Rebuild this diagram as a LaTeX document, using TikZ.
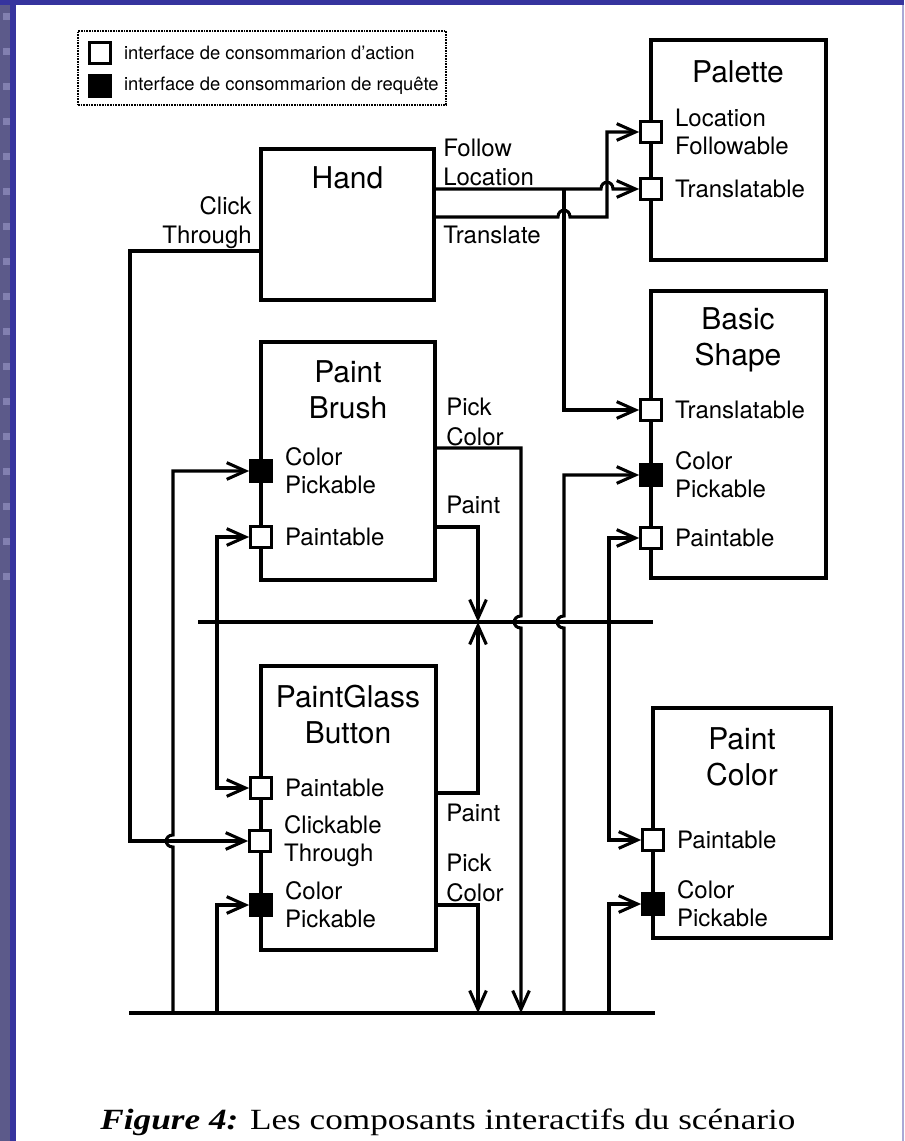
\documentclass[tikz,border=0pt]{standalone}
\usepackage{fontspec}
\setmainfont{TeX Gyre Heros}
\newfontfamily\capfont{Liberation Serif}
\usetikzlibrary{arrows.meta,positioning}
\definecolor{slideblue}{RGB}{54,52,158}
\definecolor{slidegrey}{RGB}{92,90,138}
\definecolor{slidemark}{RGB}{130,128,176}
\definecolor{slideedge}{RGB}{170,168,214}

\begin{document}
\begin{tikzpicture}[
  x=0.75pt, y=-0.75pt,
  every node/.style={font=\fontsize{18}{22}\selectfont},
  blockbox/.style={draw, line width=2.3pt, inner sep=0pt},
  blocktitle/.style={align=center, font=\fontsize{22.5}{27}\selectfont},
  actport/.style={draw, fill=white, line width=1.8pt, minimum size=16pt, inner sep=0pt},
  reqport/.style={actport, fill=black},
  portlabel/.style={align=left, inner sep=0pt, right=9pt of #1,
                    font=\fontsize{18}{21}\selectfont},
  wirelabel/.style={align=left, inner sep=0pt, anchor=west},
  keytext/.style={inner sep=0pt, font=\fontsize{13.8}{16}\selectfont},
  wire/.style={line width=2.3pt},
  feed/.style={wire, -{Straight Barb[length=14pt,width=12.5pt]}},
  bus/.style={line width=2.8pt},
]
\useasboundingbox (0,0) rectangle (904,1141);

% slide frame
\fill[white] (0,0) rectangle (904,1141);
\fill[slideedge] (902,0) rectangle (904,1141);
\fill[slidegrey] (0,0) rectangle (10,1141);
\fill[slideblue] (10,0) rectangle (16,1141);
\fill[slideblue] (0,0) rectangle (904,5);
\foreach \y in {13,48,...,573}
  \fill[slidemark] (3,\y) rectangle (10,\y+7);

% legend
\node[draw, line width=1.1pt, dash pattern=on 1.2pt off 0.8pt,
      minimum width=276pt, minimum height=55.5pt] (legend) at (262,68) {};
\node[actport] (keyact) at (100,53) {};
\node[reqport] (keyreq) at (100,86) {};
\node[keytext, right=9pt of keyact] (keyacttext) {interface de consommarion d'action};
\node[keytext, right=9pt of keyreq] (keyreqtext) {interface de consommarion de requête};

% components
\node[blockbox, minimum width=129.75pt, minimum height=113.25pt] (hand) at (347.5,224.5) {};
\node[blocktitle] (handtitle) at (347.5,178) {Hand};

\node[blockbox, minimum width=130.5pt, minimum height=178.5pt] (pb) at (348,461) {};
\node[blocktitle] (pbtitle) at (348,390) {Paint\\Brush};

\node[blockbox, minimum width=131.25pt, minimum height=213pt] (pg) at (348.5,808) {};
\node[blocktitle] (pgtitle) at (348,715) {PaintGlass\\Button};

\node[blockbox, minimum width=131.25pt, minimum height=165pt] (pal) at (738.5,150) {};
\node[blocktitle] (paltitle) at (738,72) {Palette};

\node[blockbox, minimum width=131.25pt, minimum height=215.25pt] (bs) at (738.5,434.5) {};
\node[blocktitle] (bstitle) at (738,340) {Basic\\Shape};

\node[blockbox, minimum width=133.5pt, minimum height=172.5pt] (pc) at (742,823) {};
\node[blocktitle] (pctitle) at (742,757) {Paint\\Color};

% ports
\node[actport] (palloc) at (651,132) {};
\node[actport] (paltr) at (651,189) {};
\node[actport] (bstr) at (651,410) {};
\node[reqport] (bscp) at (651,475) {};
\node[actport] (bspt) at (651,538) {};
\node[actport] (pcpt) at (653,840) {};
\node[reqport] (pccp) at (653,904) {};
\node[reqport] (pbcp) at (261,471) {};
\node[actport] (pbpt) at (261,537) {};
\node[actport] (pgpt) at (261,788) {};
\node[actport] (pgct) at (260,841) {};
\node[reqport] (pgcp) at (261,905) {};

\node[portlabel=palloc] {Location\\Followable};
\node[portlabel=paltr] {Translatable};
\node[portlabel=bstr] {Translatable};
\node[portlabel=bscp] {Color\\Pickable};
\node[portlabel=bspt] {Paintable};
\node[portlabel=pcpt] {Paintable};
\node[portlabel=pccp] {Color\\Pickable};
\node[portlabel=pbcp] {Color\\Pickable};
\node[portlabel=pbpt] {Paintable};
\node[portlabel=pgpt] {Paintable};
\node[portlabel=pgct] {Clickable\\Through};
\node[portlabel=pgcp] {Color\\Pickable};

% wire labels
\node[wirelabel, anchor=east, align=right] (clicklabel) at (252,222.5) {Click\\Through};
\node[wirelabel] (followlabel) at (443,162.5) {Follow\\Location};
\node[wirelabel] (translabel) at (443,235) {Translate};
\node[wirelabel] (pbpicklabel) at (446,422) {Pick\\Color};
\node[wirelabel] (pbpaintlabel) at (446,505) {Paint};
\node[wirelabel] (pgpaintlabel) at (446,813) {Paint};
\node[wirelabel] (pgpicklabel) at (446,878) {Pick\\Color};

% buses
\coordinate (paintbusw) at (198,622);
\coordinate (paintbuse) at (653,622);
\coordinate (pickbusw) at (129,1013);
\coordinate (pickbuse) at (655,1013);
\draw[bus] (paintbusw) -- (paintbuse);
\draw[bus] (pickbusw) -- (pickbuse);

% hand outputs
\draw[feed] (paltr -| hand.east) -- (601,189)
  .. controls (601,180) and (613,180) .. (613,189) -- (paltr.west);
\draw[feed] (hand.east |- 0,217) -- (558,217)
  .. controls (558,208) and (570,208) .. (570,217) -- (607,217) |- (palloc.west);
\draw[feed] (564,189) |- (bstr.west);
\draw[feed] (hand.west |- 0,251) -- (130,251) |- (pgct.west);

% paint
\draw[feed] (pb.east |- 0,527) -| (478,622);
\draw[feed] (pg.east |- 0,793) -| (478,622);
\draw[feed] (217,622) |- (pbpt.west);
\draw[feed] (217,622) |- (pgpt.west);
\draw[feed] (609,622) |- (bspt.west);
\draw[feed] (609,622) |- (pcpt.west);

% pick color
\draw[feed] (pb.east |- 0,448) -- (521,448) -- (521,616)
  .. controls (512,616) and (512,628) .. (521,628) -- (521,1013);
\draw[feed] (pgcp -| pg.east) -| (478,1013);
\draw[feed] (173,1013) -- (173,847)
  .. controls (164,847) and (164,835) .. (173,835) |- (pbcp.west);
\draw[feed] (217,1013) |- (pgcp.west);
\draw[feed] (564,1013) -- (564,628)
  .. controls (555,628) and (555,616) .. (564,616) |- (bscp.west);
\draw[feed] (609,1013) |- (pccp.west);

% caption
\node[anchor=base, font=\capfont\fontsize{22}{26}\selectfont] (caption) at (448,1129)
  {\scalebox{1.2}[1]{\textbf{\itshape Figure 4:} Les composants interactifs du scénario}};

\end{tikzpicture}
\end{document}
